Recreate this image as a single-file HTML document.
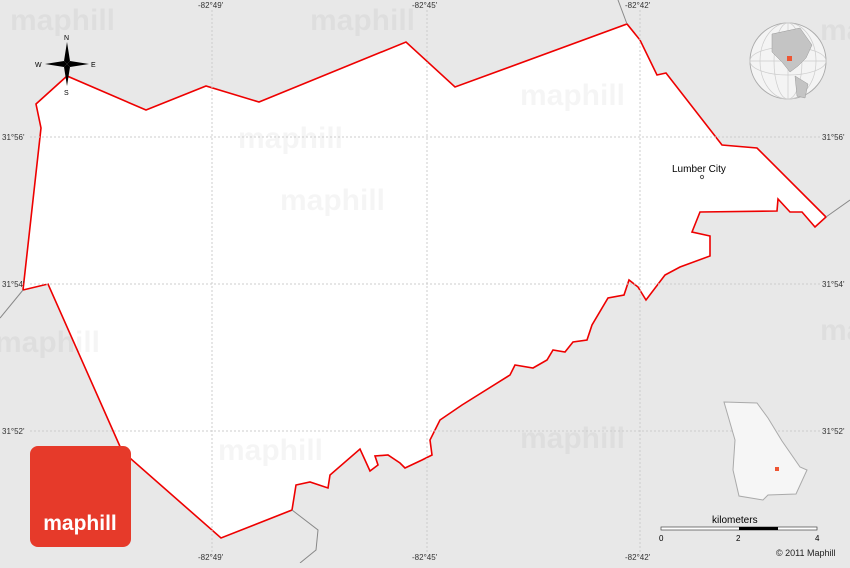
<!DOCTYPE html>
<html><head><meta charset="utf-8"><style>
body{margin:0;width:850px;height:563px;overflow:hidden;background:#e8e8e8;font-family:"Liberation Sans",sans-serif}
</style></head><body>
<svg width="850" height="563" xmlns="http://www.w3.org/2000/svg" font-family="Liberation Sans, sans-serif">
<rect width="850" height="563" fill="#e8e8e8"/>
<polygon fill="#fff" stroke="#e00" stroke-width="1.6" points="36,104 67,76 146,110 206,86 259,102 406,42 455,87 627,24 640,40 657,75 666,73 722,145 757,148 826,217 815,227 802,212 790,212 778,199 777,211 700,212 692,232 710,236 710,256 680,267 665,275 646,300 638,287 629,280 624,295 608,298 592,325 587,340 573,342 565,352 553,350 547,360 533,368 515,365 510,375 462,405 440,420 430,440 432,455 422,460 405,468 400,463 388,455 375,456 378,465 370,471 360,449 330,475 328,488 310,482 296,485 292,510 221,538 122,451 48,284 23,290 41,128"/>
<g fill="#000" fill-opacity="0.04" font-size="30" font-weight="bold">
<text x="10" y="30">maphill</text><text x="310" y="30">maphill</text><text x="520" y="105">maphill</text>
<text x="238" y="148">maphill</text><text x="280" y="210">maphill</text><text x="218" y="460">maphill</text>
<text x="520" y="448">maphill</text><text x="-5" y="352">maphill</text><text x="820" y="40">maphill</text><text x="820" y="340">maphill</text>
</g>
<g stroke="#ccc" stroke-dasharray="2,2" stroke-width="1">
<line x1="212" y1="10" x2="212" y2="553"/><line x1="427" y1="10" x2="427" y2="553"/><line x1="640" y1="10" x2="640" y2="553"/>
<line x1="30" y1="137" x2="820" y2="137"/><line x1="30" y1="284" x2="820" y2="284"/><line x1="30" y1="431" x2="820" y2="431"/>
</g>
<g fill="#333" font-size="8">
<text x="198" y="8">-82°49'</text><text x="412" y="8">-82°45'</text><text x="625" y="8">-82°42'</text>
<text x="198" y="560">-82°49'</text><text x="412" y="560">-82°45'</text><text x="625" y="560">-82°42'</text>
<text x="2" y="140">31°56'</text><text x="2" y="287">31°54'</text><text x="2" y="434">31°52'</text>
<text x="822" y="140">31°56'</text><text x="822" y="287">31°54'</text><text x="822" y="434">31°52'</text>
</g>
<polyline fill="none" stroke="#888" points="0,318 23,290"/><polyline fill="none" stroke="#888" points="292,510 318,530 316,550 300,563"/>
<polyline fill="none" stroke="#888" points="826,217 850,200"/><polyline fill="none" stroke="#888" points="627,24 618,0"/>
<circle cx="702" cy="177" r="1.6" fill="none" stroke="#555"/>
<text x="672" y="172" font-size="10" fill="#000" stroke="#fff" stroke-width="2" paint-order="stroke">Lumber City</text>
<g transform="translate(67,64)"><polygon points="0,-22 3,-3 0,0 -3,-3" fill="#000"/><polygon points="0,22 3,3 0,0 -3,3" fill="#000"/><polygon points="-22,0 -3,-3 0,0 -3,3" fill="#000"/><polygon points="22,0 3,-3 0,0 3,3" fill="#000"/>
<text x="-3" y="-24" font-size="7">N</text><text x="-3" y="31" font-size="7">S</text><text x="-32" y="3" font-size="7">W</text><text x="24" y="3" font-size="7">E</text></g>
<circle cx="788" cy="61" r="38" fill="#f4f4f4" stroke="#aaa"/>
<g fill="none" stroke="#ccc" stroke-width="0.7"><ellipse cx="788" cy="61" rx="14" ry="38"/><ellipse cx="788" cy="61" rx="28" ry="38"/><ellipse cx="788" cy="61" rx="38" ry="14"/><line x1="750" y1="61" x2="826" y2="61"/><line x1="788" y1="23" x2="788" y2="99"/></g>
<path d="M772,34 L800,28 L812,45 L806,58 L798,66 L790,72 L782,62 L772,52 Z" fill="#c4c4c4" stroke="#999" stroke-width="0.5"/><path d="M795,76 L808,84 L805,98 L797,96 Z" fill="#c4c4c4" stroke="#999" stroke-width="0.5"/>
<rect x="787" y="56" width="5" height="5" fill="#e53"/>
<path d="M724,402 L757,403 L768,418 L782,441 L800,467 L807,470 L796,494 L768,495 L763,500 L739,496 L733,470 L735,440 Z" fill="#f6f6f6" stroke="#aaa"/>
<rect x="775" y="467" width="4" height="4" fill="#e53"/>
<text x="712" y="523" font-size="10" fill="#000">kilometers</text>
<rect x="661" y="527" width="156" height="3" fill="#fff" stroke="#444" stroke-width="0.7"/><rect x="739" y="527" width="39" height="3" fill="#000"/>
<g font-size="8" fill="#000"><text x="659" y="541">0</text><text x="736" y="541">2</text><text x="815" y="541">4</text></g>
<text x="776" y="556" font-size="9" fill="#222">© 2011 Maphill</text>
<rect x="30" y="446" width="101" height="101" rx="8" fill="#e63a2a"/>
<text x="80" y="530" font-size="21" font-weight="bold" fill="#fff" text-anchor="middle">maphill</text>
</svg>
</body></html>
